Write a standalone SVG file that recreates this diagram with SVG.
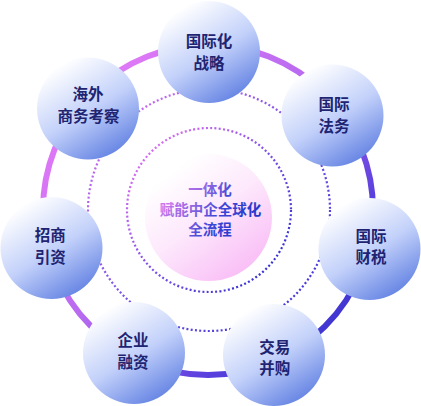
<svg xmlns="http://www.w3.org/2000/svg" width="421" height="406" viewBox="0 0 421 406">
  <defs>
    <linearGradient id="ringGrad" gradientUnits="userSpaceOnUse" x1="50" y1="60" x2="370" y2="360">
      <stop offset="0" stop-color="#ee7ef9"/>
      <stop offset="0.45" stop-color="#b86af0"/>
      <stop offset="0.75" stop-color="#5a40de"/>
      <stop offset="1" stop-color="#2a2cc6"/>
    </linearGradient>
    <linearGradient id="dotGradOuter" gradientUnits="userSpaceOnUse" x1="90" y1="90" x2="330" y2="330">
      <stop offset="0" stop-color="#e070f4"/>
      <stop offset="0.55" stop-color="#7050e6"/>
      <stop offset="1" stop-color="#3430d2"/>
    </linearGradient>
    <linearGradient id="dotGradInner" gradientUnits="userSpaceOnUse" x1="140" y1="140" x2="280" y2="280">
      <stop offset="0" stop-color="#e470f5"/>
      <stop offset="0.5" stop-color="#8050e6"/>
      <stop offset="1" stop-color="#2a2ecc"/>
    </linearGradient>
    <linearGradient id="centerGrad" x1="0.2" y1="0.15" x2="0.8" y2="0.95">
      <stop offset="0" stop-color="#ffffff"/>
      <stop offset="0.45" stop-color="#fde8fc"/>
      <stop offset="1" stop-color="#f9bcf6"/>
    </linearGradient>
    <linearGradient id="nodeGrad" x1="0.22" y1="0.08" x2="0.78" y2="0.98">
      <stop offset="0" stop-color="#ffffff"/>
      <stop offset="0.5" stop-color="#c3d1fa"/>
      <stop offset="1" stop-color="#5f7fe2"/>
    </linearGradient>
    <linearGradient id="centerText" gradientUnits="userSpaceOnUse" x1="170" y1="180" x2="250" y2="236">
      <stop offset="0" stop-color="#e17cf1"/>
      <stop offset="0.35" stop-color="#8f66e2"/>
      <stop offset="0.6" stop-color="#3f46d6"/>
      <stop offset="1" stop-color="#1f34c6"/>
    </linearGradient>
  </defs>
  <style>
    .node circle { fill: url(#nodeGrad); }
    .node text { font-family: "Noto Sans CJK SC", "Noto Sans", sans-serif; font-weight: 700; font-size: 15.5px; fill: #1e2472; text-anchor: middle; dominant-baseline: central; }
    .ctext { font-family: "Noto Sans CJK SC", "Noto Sans", sans-serif; font-weight: 700; font-size: 14.5px; fill: url(#centerText); text-anchor: middle; dominant-baseline: central; }
    .dots { fill: none; stroke-width: 2.2; stroke-dasharray: 2 2.3; }
  </style>

  <g id="connectors">
    <circle cx="208" cy="210" r="165" fill="none" stroke="url(#ringGrad)" stroke-width="6"/>
    <circle class="dots" cx="209" cy="210" r="121" stroke="url(#dotGradOuter)"/>
    <circle class="dots" cx="209" cy="210" r="82" stroke="url(#dotGradInner)"/>
  </g>

  <g id="center">
    <circle cx="208.5" cy="217.5" r="63.5" fill="url(#centerGrad)"/>
    <text class="ctext" x="210" y="188.3">一体化</text>
    <text class="ctext" x="210.5" y="208.3">赋能中企全球化</text>
    <text class="ctext" x="210" y="228.3">全流程</text>
  </g>

  <g id="node-strategy" class="node">
    <circle cx="209" cy="52" r="51"/>
    <text x="209" y="40">国际化</text>
    <text x="209" y="61.7">战略</text>
  </g>
  <g id="node-legal" class="node">
    <circle cx="332.5" cy="115.5" r="51"/>
    <text x="334" y="103.3">国际</text>
    <text x="334" y="124.5">法务</text>
  </g>
  <g id="node-tax" class="node">
    <circle cx="369.5" cy="249" r="51"/>
    <text x="371" y="234.7">国际</text>
    <text x="371" y="256">财税</text>
  </g>
  <g id="node-ma" class="node">
    <circle cx="274" cy="355" r="51"/>
    <text x="274.7" y="345.5">交易</text>
    <text x="274.7" y="366.7">并购</text>
  </g>
  <g id="node-finance" class="node">
    <circle cx="134" cy="353" r="51"/>
    <text x="133" y="339">企业</text>
    <text x="133" y="360.8">融资</text>
  </g>
  <g id="node-invest" class="node">
    <circle cx="51.5" cy="248" r="51"/>
    <text x="50.3" y="234">招商</text>
    <text x="50.3" y="255.8">引资</text>
  </g>
  <g id="node-overseas" class="node">
    <circle cx="88" cy="108.5" r="51"/>
    <text x="88" y="92.5">海外</text>
    <text x="88.5" y="114.5">商务考察</text>
  </g>
</svg>
